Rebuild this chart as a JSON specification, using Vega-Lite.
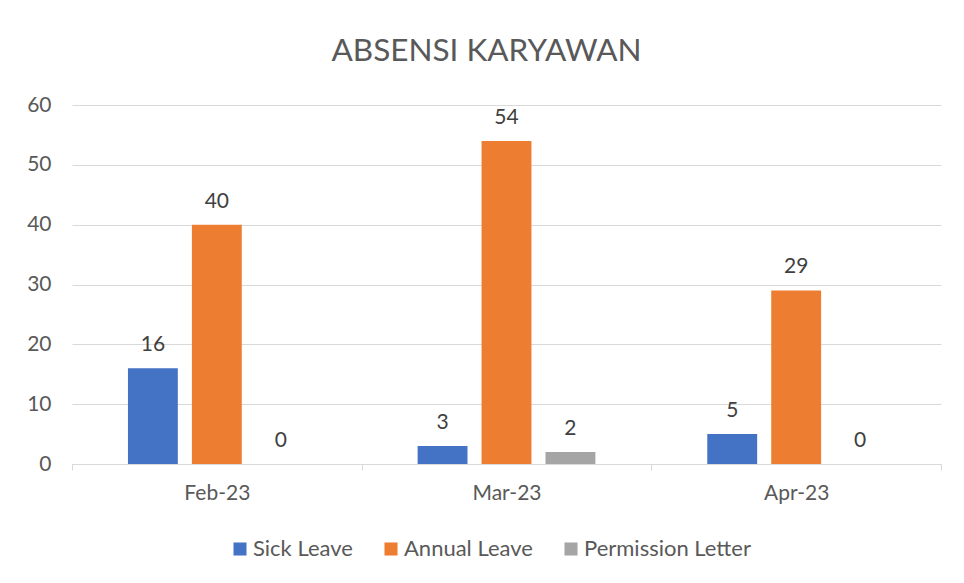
{
  "$schema": "https://vega.github.io/schema/vega-lite/v6.json",
  "width": 869,
  "height": 359,
  "autosize": "none",
  "padding": {"left": 72, "top": 105, "right": 23, "bottom": 119},
  "background": "white",
  "title": {
    "text": "ABSENSI KARYAWAN",
    "font": "Lato",
    "fontSize": 31.5,
    "fontWeight": "normal",
    "color": "#595959",
    "anchor": "middle",
    "frame": "group",
    "dx": -20,
    "offset": 27
  },
  "data": {
    "values": [
      {"month": "Feb-23", "type": "Sick Leave", "value": 16},
      {"month": "Feb-23", "type": "Annual Leave", "value": 40},
      {"month": "Feb-23", "type": "Permission Letter", "value": 0},
      {"month": "Mar-23", "type": "Sick Leave", "value": 3},
      {"month": "Mar-23", "type": "Annual Leave", "value": 54},
      {"month": "Mar-23", "type": "Permission Letter", "value": 2},
      {"month": "Apr-23", "type": "Sick Leave", "value": 5},
      {"month": "Apr-23", "type": "Annual Leave", "value": 29},
      {"month": "Apr-23", "type": "Permission Letter", "value": 0}
    ]
  },
  "encoding": {
    "x": {
      "field": "month",
      "type": "nominal",
      "sort": ["Feb-23", "Mar-23", "Apr-23"],
      "scale": {"paddingInner": 0, "paddingOuter": 0},
      "axis": {
        "title": null,
        "labelAngle": 0,
        "labelFont": "Lato",
        "labelFontSize": 21,
        "labelColor": "#595959",
        "labelPadding": 12,
        "domainColor": "#D9D9D9",
        "domainWidth": 1,
        "tickColor": "#D9D9D9",
        "tickSize": 6,
        "tickBand": "extent",
        "grid": false
      }
    },
    "xOffset": {
      "field": "type",
      "type": "nominal",
      "sort": ["Sick Leave", "Annual Leave", "Permission Letter"],
      "scale": {"paddingInner": 0.22, "paddingOuter": 0.875}
    },
    "y": {
      "field": "value",
      "type": "quantitative",
      "scale": {"domain": [0, 60], "nice": false},
      "axis": {
        "title": null,
        "values": [0, 10, 20, 30, 40, 50, 60],
        "labelFont": "Lato",
        "labelFontSize": 21,
        "labelColor": "#595959",
        "labelPadding": 21,
        "ticks": false,
        "domain": false,
        "gridColor": "#D9D9D9",
        "gridWidth": 1
      }
    },
    "color": {
      "field": "type",
      "type": "nominal",
      "sort": ["Sick Leave", "Annual Leave", "Permission Letter"],
      "scale": {
        "domain": ["Sick Leave", "Annual Leave", "Permission Letter"],
        "range": ["#4472C4", "#ED7D31", "#A5A5A5"]
      },
      "legend": {
        "title": null,
        "orient": "none",
        "legendX": 157,
        "legendY": 433,
        "direction": "horizontal",
        "symbolType": "square",
        "symbolSize": 170,
        "symbolStrokeWidth": 0,
        "labelFont": "Lato",
        "labelFontSize": 22,
        "labelColor": "#595959",
        "labelLimit": 0,
        "columnPadding": 27,
        "labelOffset": 2
      }
    }
  },
  "layer": [
    {"mark": {"type": "bar"}},
    {
      "mark": {
        "type": "text",
        "baseline": "bottom",
        "dy": -13,
        "font": "Lato",
        "fontSize": 21,
        "color": "#404040"
      },
      "encoding": {
        "text": {"field": "value", "type": "quantitative"},
        "color": {"value": "#404040"}
      }
    }
  ],
  "config": {
    "view": {"stroke": null}
  }
}
